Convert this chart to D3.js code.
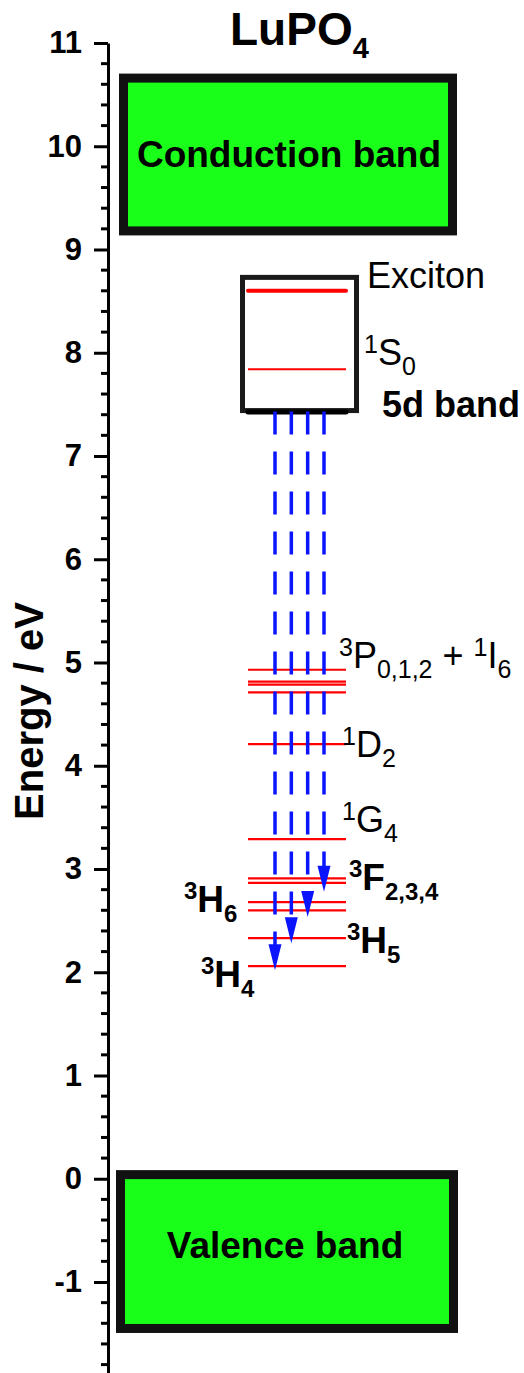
<!DOCTYPE html>
<head>
<meta charset="utf-8">
<script src="https://d3js.org/d3.v7.min.js"></script>
<style>
body { margin: 0; background: #fff; }
text { font-family: "Liberation Sans", Arial, sans-serif; }
</style>
</head>
<body>
<svg id="diagram"></svg>
<script>

// chart data (energies in eV)

var majorTicks = d3.range(-1, 12, 1);
var conductionBand = [9.18, 10.66];
var valenceBand = [-1.45, 0.04];
var fiveDBand = [7.44, 8.73];
var excitonLevel = 8.6;
var s0Level = 7.84;
var levels = [4.93, 4.815, 4.785, 4.71, 4.21, 3.29, 2.91, 2.865, 2.68, 2.60, 2.33, 2.06];
var arrowStart = 7.44;
var arrowEnds = [2.02, 2.28, 2.535, 2.78];

var labelTitle = [["LuPO", ""], ["4", "sub"]];
var labelExciton = [["Exciton", ""]];
var labelS0 = [["1", "sup"], ["S", ""], ["0", "sub"]];
var label5d = [["5d band", ""]];
var labelP = [["3", "sup"], ["P", ""], ["0,1,2", "sub"], [" + ", ""], ["1", "sup"], ["I", ""], ["6", "sub"]];
var labelD2 = [["1", "sup"], ["D", ""], ["2", "sub"]];
var labelG4 = [["1", "sup"], ["G", ""], ["4", "sub"]];
var labelF = [["3", "sup"], ["F", ""], ["2,3,4", "sub"]];
var labelH6 = [["3", "sup"], ["H", ""], ["6", "sub"]];
var labelH5 = [["3", "sup"], ["H", ""], ["5", "sub"]];
var labelH4 = [["3", "sup"], ["H", ""], ["4", "sub"]];

// chart parameters

var width = 524,
    height = 1373;

var svg = d3.select("#diagram")
    .attr("width", width)
    .attr("height", height);

var y = d3.scaleLinear().domain([11, -2]).range([43, 43 + 13 * 103.25]);

// axis
var axisX = 108;
var axisG = svg.append("g").attr("transform", "translate(" + axisX + ",0)");
axisG.call(d3.axisLeft(y).tickValues(majorTicks).tickSize(14).tickSizeOuter(0).tickPadding(12).tickFormat(d => String(d)));
axisG.select(".domain").attr("stroke-width", 3).attr("stroke", "#000");
axisG.selectAll(".tick line").attr("stroke-width", 3);
axisG.selectAll(".tick text")
    .attr("font-size", 31).attr("font-weight", "bold").attr("fill", "#000")
    .attr("font-family", "Liberation Sans, Arial, sans-serif");

var minorTicks = d3.range(-2, 11.001, 0.2).filter(d => Math.abs(d - Math.round(d)) > 0.01);
axisG.selectAll("line.minor")
    .data(minorTicks)
    .join("line")
    .attr("class", "minor")
    .attr("x1", -7).attr("x2", 0)
    .attr("y1", d => y(d)).attr("y2", d => y(d))
    .attr("stroke", "#000").attr("stroke-width", 3);

svg.append("text")
    .attr("transform", "translate(43," + 711 + ") rotate(-90)")
    .attr("text-anchor", "middle")
    .attr("font-size", 40).attr("font-weight", "bold")
    .text("Energy / eV");

// bands
function band(range, x0, x1, label, labelX, labelY) {
    svg.append("rect")
        .attr("x", x0).attr("width", x1 - x0)
        .attr("y", y(range[1])).attr("height", y(range[0]) - y(range[1]))
        .attr("fill", "#1aff1a").attr("stroke", "#111").attr("stroke-width", 9);
    svg.append("text")
        .attr("x", labelX).attr("y", labelY)
        .attr("text-anchor", "middle")
        .attr("font-size", 37).attr("font-weight", "bold")
        .text(label);
}
band(conductionBand, 123.5, 452.5, "Conduction band", 289, 167);
band(valenceBand, 120.5, 453.5, "Valence band", 285, 1258);

// 5d band box
svg.append("rect")
    .attr("x", 242.5).attr("width", 114)
    .attr("y", y(fiveDBand[1])).attr("height", y(fiveDBand[0]) - y(fiveDBand[1]))
    .attr("fill", "#fff").attr("stroke", "#1a1a1a").attr("stroke-width", 5);

var lvX0 = 248, lvX1 = 346;
svg.append("line")
    .attr("x1", lvX0).attr("x2", lvX1)
    .attr("y1", y(fiveDBand[0]) + 1.5).attr("y2", y(fiveDBand[0]) + 1.5)
    .attr("stroke", "#000").attr("stroke-width", 5).attr("stroke-linecap", "round");

svg.append("line")
    .attr("x1", lvX0).attr("x2", lvX1)
    .attr("y1", y(excitonLevel)).attr("y2", y(excitonLevel))
    .attr("stroke", "#ff0000").attr("stroke-width", 4).attr("stroke-linecap", "round");

svg.append("line")
    .attr("x1", lvX0).attr("x2", lvX1)
    .attr("y1", y(s0Level)).attr("y2", y(s0Level))
    .attr("stroke", "#ff0000").attr("stroke-width", 2);

// 4f levels
svg.selectAll("line.level")
    .data(levels)
    .join("line")
    .attr("class", "level")
    .attr("x1", lvX0).attr("x2", lvX1)
    .attr("y1", d => y(d)).attr("y2", d => y(d))
    .attr("stroke", "#ff0000").attr("stroke-width", 2.2);

// emission arrows
var arrowX = d3.scalePoint().domain(d3.range(arrowEnds.length)).range([275, 324]);
var headLen = 26, headW = 13;
var arrows = svg.selectAll("g.arrow")
    .data(arrowEnds)
    .join("g")
    .attr("class", "arrow");
arrows.append("line")
    .attr("x1", (d, i) => arrowX(i)).attr("x2", (d, i) => arrowX(i))
    .attr("y1", y(arrowStart) + 1).attr("y2", d => y(d) - headLen + 2)
    .attr("stroke", "#0a14ff").attr("stroke-width", 3.5)
    .attr("stroke-dasharray", "23,17");
arrows.append("path")
    .attr("d", (d, i) => {
        var x = arrowX(i), t = y(d);
        return "M" + x + "," + t + "L" + (x - headW / 2) + "," + (t - headLen) + "L" + (x + headW / 2) + "," + (t - headLen) + "Z";
    })
    .attr("fill", "#0a14ff");

// labels with super/subscripts
function richLabel(parts, x, yBase, size, bold, opts) {
    opts = opts || {};
    var supSize = opts.supSize || Math.round(size * 0.66);
    var supUp = opts.supUp || Math.round(size * 0.36);
    var subDown = opts.subDown || Math.round(size * 0.3);
    var t = svg.append("text")
        .attr("x", x).attr("y", yBase)
        .attr("font-size", size)
        .attr("font-weight", bold ? "bold" : "normal")
        .attr("fill", "#000");
    var shift = 0;
    parts.forEach(p => {
        var target = p[1] === "sup" ? -supUp : p[1] === "sub" ? subDown : 0;
        var ts = t.append("tspan")
            .attr("dy", target - shift)
            .style("white-space", "pre")
            .text(p[0]);
        if (p[1]) ts.attr("font-size", supSize);
        shift = target;
    });
}

var reg = {supSize: 25, supUp: 12, subDown: 10};
var bld = {supSize: 24, supUp: 13, subDown: 10};
richLabel(labelTitle, 230, 45, 46, true, {supSize: 29, subDown: 13});
richLabel(labelExciton, 367, 288, 36, false);
richLabel(labelS0, 364, 365, 36, false, reg);
richLabel(label5d, 382, 417, 36, true);
richLabel(labelP, 339, 668, 36, false, reg);
richLabel(labelD2, 342, 757, 36, false, reg);
richLabel(labelG4, 342, 832, 36, false, reg);
richLabel(labelF, 349, 890, 37, true, bld);
richLabel(labelH6, 184, 912, 37, true, bld);
richLabel(labelH5, 347, 953, 37, true, bld);
richLabel(labelH4, 201, 987, 37, true, bld);

</script>
</body>
